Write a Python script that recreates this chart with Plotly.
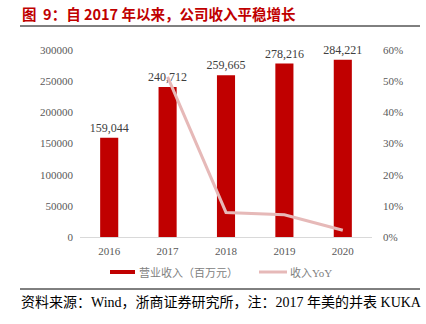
import plotly.graph_objects as go

years = ["2016", "2017", "2018", "2019", "2020"]
revenue = [159044, 240712, 259665, 278216, 284221]
# year-over-year growth, derived from consecutive revenue figures
yoy = [None] + [revenue[i] / revenue[i - 1] - 1 for i in range(1, len(revenue))]

left_ticks = [0, 50000, 100000, 150000, 200000, 250000, 300000]
right_ticks = [0, 0.1, 0.2, 0.3, 0.4, 0.5, 0.6]

bar_name = "营业收入（百万元）"
line_name = "收入YoY"
title_text = "图  9：自 2017 年以来，公司收入平稳增长"
source_text = "资料来源：Wind，浙商证券研究所，注：2017 年美的并表 KUKA"

SERIF = "Liberation Serif, Noto Sans CJK SC, serif"
SANS_BOLD = "Noto Sans CJK SC, sans-serif"
BAR_COLOR = "#C00000"
LINE_COLOR = "#E6B9B8"

# plot area in pixels: x 80..372, y 50..237
L, R, T, B = 80, 54, 50, 87
W, H = 426, 324
pw, ph = W - L - R, H - T - B


def px(x):
    return (x - L) / pw


def py(y):
    return (H - B - y) / ph


fig = go.Figure()
fig.add_trace(go.Bar(
    x=years, y=revenue, name=bar_name,
    marker=dict(color=BAR_COLOR, line=dict(width=0)),
    width=0.31,
    text=[f"{v:,}" for v in revenue], textposition="outside",
    constraintext="none",
    textfont=dict(family=SERIF, size=12, color="#404040"),
    cliponaxis=False, showlegend=False,
))
fig.add_trace(go.Scatter(
    x=years, y=yoy, name=line_name, yaxis="y2", mode="lines",
    line=dict(color=LINE_COLOR, width=3), showlegend=False,
))

legend_font = dict(family=SERIF, size=11, color="#808080")

fig.update_layout(
    width=W, height=H,
    margin=dict(l=L, r=R, t=T, b=B),
    paper_bgcolor="white", plot_bgcolor="white",
    xaxis=dict(
        type="category", range=[-0.5, 4.5],
        showline=True, linecolor="#D9D9D9", linewidth=1,
        ticks="", showgrid=False,
        tickfont=dict(family=SERIF, size=11, color="#595959"),
        ticklabelstandoff=4,
    ),
    yaxis=dict(
        range=[0, 300000], tickvals=left_ticks,
        ticktext=[str(v) for v in left_ticks],
        showgrid=False, zeroline=False, showline=False, ticks="",
        tickfont=dict(family=SERIF, size=11, color="#595959"),
        ticklabelstandoff=6,
    ),
    yaxis2=dict(
        overlaying="y", side="right", range=[0, 0.6], tickvals=right_ticks,
        ticktext=[f"{int(round(v * 100))}%" for v in right_ticks],
        showgrid=False, zeroline=False, showline=False, ticks="",
        tickfont=dict(family=SERIF, size=11, color="#595959"),
        ticklabelstandoff=10,
    ),
    annotations=[
        dict(text=f"<b>{title_text}</b>", xref="paper", yref="paper",
             x=px(20), y=py(13), xanchor="left", yanchor="middle",
             showarrow=False,
             font=dict(family=SANS_BOLD, size=14.5, color=BAR_COLOR)),
        dict(text=source_text, xref="paper", yref="paper",
             x=px(19), y=py(302), xanchor="left", yanchor="middle",
             showarrow=False,
             font=dict(family=SERIF, size=14, color="#000000")),
        # legend entries
        dict(text=bar_name, xref="paper", yref="paper",
             x=px(137), y=py(272), xanchor="left", yanchor="middle",
             showarrow=False, font=legend_font),
        dict(text=line_name, xref="paper", yref="paper",
             x=px(288), y=py(272), xanchor="left", yanchor="middle",
             showarrow=False, font=legend_font),
    ],
    shapes=[
        dict(type="line", xref="paper", yref="paper",
             x0=px(20), x1=px(420), y0=py(26), y1=py(26),
             line=dict(color="#000000", width=1)),
        dict(type="line", xref="paper", yref="paper",
             x0=px(20), x1=px(420), y0=py(289), y1=py(289),
             line=dict(color="#000000", width=1)),
        # legend keys
        dict(type="rect", xref="paper", yref="paper",
             x0=px(110), x1=px(135), y0=py(270), y1=py(274),
             fillcolor=BAR_COLOR, line=dict(width=0)),
        dict(type="line", xref="paper", yref="paper",
             x0=px(259), x1=px(287), y0=py(272), y1=py(272),
             line=dict(color=LINE_COLOR, width=3)),
    ],
)

fig.write_html("out.html")
